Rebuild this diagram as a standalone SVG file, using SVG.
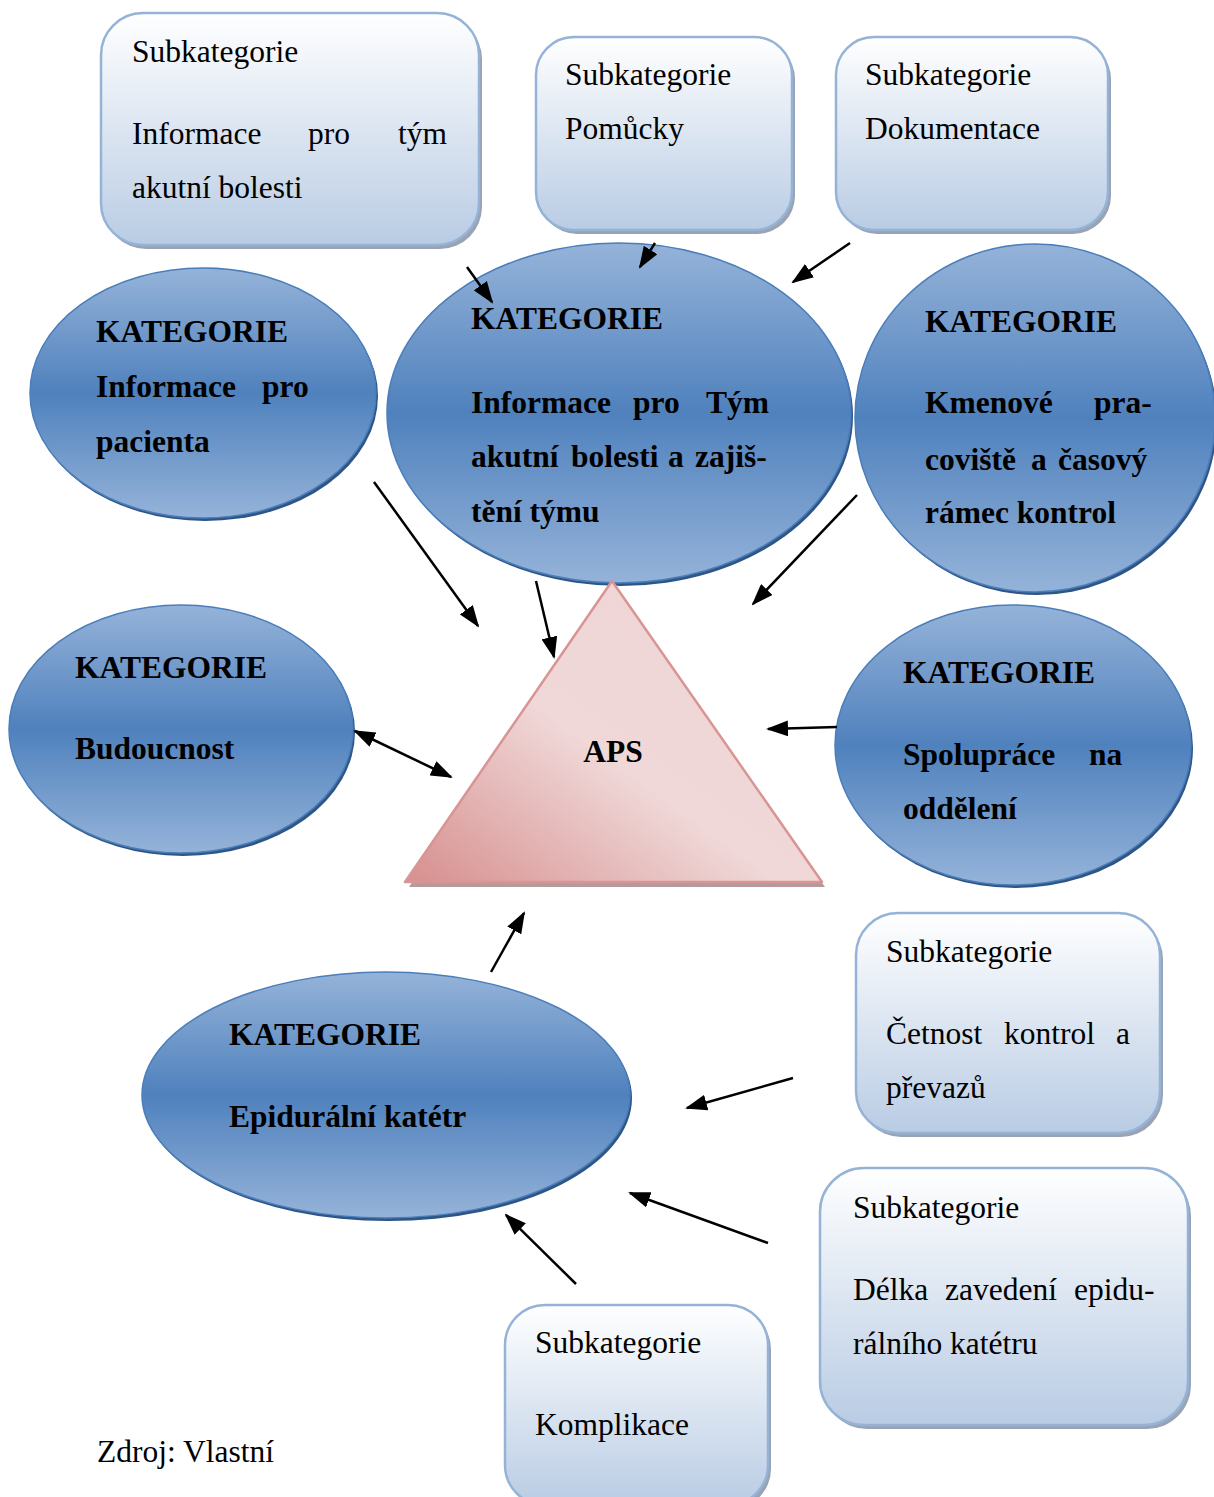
<svg xmlns="http://www.w3.org/2000/svg" width="1214" height="1497" viewBox="0 0 1214 1497">
<defs>
<linearGradient id="gBox" x1="0" y1="0" x2="0" y2="1">
<stop offset="0" stop-color="#ffffff"/>
<stop offset="1" stop-color="#b9cce4"/>
</linearGradient>
<linearGradient id="gEll" x1="0" y1="0" x2="0" y2="1">
<stop offset="0" stop-color="#95b3d9"/>
<stop offset="0.5" stop-color="#4f81bd"/>
<stop offset="1" stop-color="#95b3d9"/>
</linearGradient>
<linearGradient id="gTri" x1="0" y1="1" x2="1" y2="0">
<stop offset="0" stop-color="#d68f8e"/>
<stop offset="0.45" stop-color="#f0d8d8"/>
<stop offset="1" stop-color="#efd3d3"/>
</linearGradient>
<marker id="ah" markerUnits="userSpaceOnUse" markerWidth="22" markerHeight="16" refX="20" refY="8" orient="auto">
<path d="M0,0 L22,8 L0,16 z" fill="#000"/>
</marker>
<marker id="ahs" markerUnits="userSpaceOnUse" markerWidth="22" markerHeight="16" refX="2" refY="8" orient="auto">
<path d="M22,0 L0,8 L22,16 z" fill="#000"/>
</marker>
</defs>
<style>
.box{fill:url(#gBox);stroke:#95b3d7;stroke-width:2.5}
.bsh{fill:#9aa3b3}
.ell{fill:url(#gEll);stroke:#4a7ebb;stroke-width:1.5}
.esh{fill:#2f5585}
.t{font-family:"Liberation Serif","Times New Roman",serif;font-size:31.5px;fill:#000}
.b{font-family:"Liberation Serif","Times New Roman",serif;font-size:31.5px;font-weight:bold;fill:#000}
.c line{stroke:#000;stroke-width:2.5;marker-end:url(#ah)}
</style>
<rect width="1214" height="1497" fill="#fff"/>

<g id="box-info-tym">
<rect class="bsh" x="104" y="17" width="378" height="232" rx="42"/>
<rect class="box" x="101" y="13" width="378" height="232" rx="42"/>
<text class="t" x="132" y="62">Subkategorie</text>
<text class="t" y="144"><tspan x="132">Informace</tspan><tspan x="308">pro</tspan><tspan x="398">tým</tspan></text>
<text class="t" x="132" y="198">akutní bolesti</text>
</g>

<g id="box-pomucky">
<rect class="bsh" x="539" y="41" width="256" height="193" rx="38"/>
<rect class="box" x="536" y="37" width="256" height="193" rx="38"/>
<text class="t" x="565" y="85">Subkategorie</text>
<text class="t" x="565" y="139">Pomůcky</text>
</g>

<g id="box-dokumentace">
<rect class="bsh" x="839" y="41" width="272" height="193" rx="38"/>
<rect class="box" x="836" y="37" width="272" height="193" rx="38"/>
<text class="t" x="865" y="85">Subkategorie</text>
<text class="t" x="865" y="139">Dokumentace</text>
</g>

<g id="box-cetnost">
<rect class="bsh" x="859" y="917" width="304" height="220" rx="42"/>
<rect class="box" x="856" y="913" width="304" height="220" rx="42"/>
<text class="t" x="886" y="962">Subkategorie</text>
<text class="t" y="1044"><tspan x="886">Četnost</tspan><tspan x="1004">kontrol</tspan><tspan x="1116">a</tspan></text>
<text class="t" x="886" y="1098">převazů</text>
</g>

<g id="box-delka">
<rect class="bsh" x="823" y="1172" width="368" height="257" rx="44"/>
<rect class="box" x="820" y="1168" width="368" height="257" rx="44"/>
<text class="t" x="853" y="1218">Subkategorie</text>
<text class="t" y="1300"><tspan x="853">Délka</tspan><tspan x="945">zavedení</tspan><tspan x="1074">epidu-</tspan></text>
<text class="t" x="853" y="1354">rálního katétru</text>
</g>

<g id="box-komplikace">
<rect class="bsh" x="508" y="1309" width="263" height="200" rx="40"/>
<rect class="box" x="505" y="1305" width="263" height="200" rx="40"/>
<text class="t" x="535" y="1353">Subkategorie</text>
<text class="t" x="535" y="1435">Komplikace</text>
</g>

<g id="ell-pacient">
<ellipse class="esh" cx="205" cy="396" rx="173" ry="125"/>
<ellipse class="ell" cx="203" cy="393" rx="173" ry="125"/>
<text class="b" x="96" y="342">KATEGORIE</text>
<text class="b" y="397"><tspan x="96">Informace</tspan><tspan x="262">pro</tspan></text>
<text class="b" x="96" y="452">pacienta</text>
</g>

<g id="ell-tym">
<ellipse class="esh" cx="621" cy="416" rx="232" ry="170"/>
<ellipse class="ell" cx="619" cy="413" rx="232" ry="170"/>
<text class="b" x="471" y="329">KATEGORIE</text>
<text class="b" y="413"><tspan x="471">Informace</tspan><tspan x="633">pro</tspan><tspan x="706">Tým</tspan></text>
<text class="b" y="467"><tspan x="471">akutní</tspan><tspan x="571">bolesti</tspan><tspan x="668">a</tspan><tspan x="695">zajiš-</tspan></text>
<text class="b" x="471" y="522">tění týmu</text>
</g>

<g id="ell-kmenove">
<ellipse class="esh" cx="1037" cy="421" rx="180" ry="174"/>
<ellipse class="ell" cx="1035" cy="418" rx="180" ry="174"/>
<text class="b" x="925" y="332">KATEGORIE</text>
<text class="b" y="413"><tspan x="925">Kmenové</tspan><tspan x="1094">pra-</tspan></text>
<text class="b" y="470"><tspan x="925">coviště</tspan><tspan x="1031">a</tspan><tspan x="1058">časový</tspan></text>
<text class="b" x="925" y="523">rámec kontrol</text>
</g>

<g id="ell-budoucnost">
<ellipse class="esh" cx="183" cy="732" rx="172" ry="124"/>
<ellipse class="ell" cx="181" cy="729" rx="172" ry="124"/>
<text class="b" x="75" y="678">KATEGORIE</text>
<text class="b" x="75" y="759">Budoucnost</text>
</g>

<g id="ell-spoluprace">
<ellipse class="esh" cx="1015" cy="748" rx="178" ry="140"/>
<ellipse class="ell" cx="1013" cy="745" rx="178" ry="140"/>
<text class="b" x="903" y="683">KATEGORIE</text>
<text class="b" y="765"><tspan x="903">Spolupráce</tspan><tspan x="1089">na</tspan></text>
<text class="b" x="903" y="819">oddělení</text>
</g>

<g id="ell-epidural">
<ellipse class="esh" cx="388" cy="1098" rx="244" ry="123"/>
<ellipse class="ell" cx="386" cy="1095" rx="244" ry="123"/>
<text class="b" x="229" y="1045">KATEGORIE</text>
<text class="b" x="229" y="1127">Epidurální katétr</text>
</g>

<g id="aps">
<polygon points="613,586 409,887 825,887" fill="#b49a9c"/>
<polygon points="612,581 405,882 822,882" fill="url(#gTri)" stroke="#d99594" stroke-width="2.5" stroke-linejoin="round"/>
<text class="b" x="613" y="762" text-anchor="middle">APS</text>
</g>

<g id="connectors" class="c">
<line x1="467" y1="267" x2="492" y2="302"/>
<line x1="655" y1="243" x2="640" y2="267"/>
<line x1="850" y1="243" x2="793" y2="282"/>
<line x1="374" y1="482" x2="478" y2="626"/>
<line x1="536" y1="581" x2="554" y2="657"/>
<line x1="857" y1="495" x2="753" y2="604"/>
<line x1="837" y1="727" x2="768" y2="729"/>
<line x1="355" y1="731" x2="451" y2="777" marker-start="url(#ahs)"/>
<line x1="491" y1="972" x2="524" y2="913"/>
<line x1="793" y1="1078" x2="687" y2="1108"/>
<line x1="768" y1="1243" x2="630" y2="1193"/>
<line x1="576" y1="1284" x2="506" y2="1215"/>
</g>

<text class="t" x="97" y="1462">Zdroj: Vlastní</text>
</svg>
